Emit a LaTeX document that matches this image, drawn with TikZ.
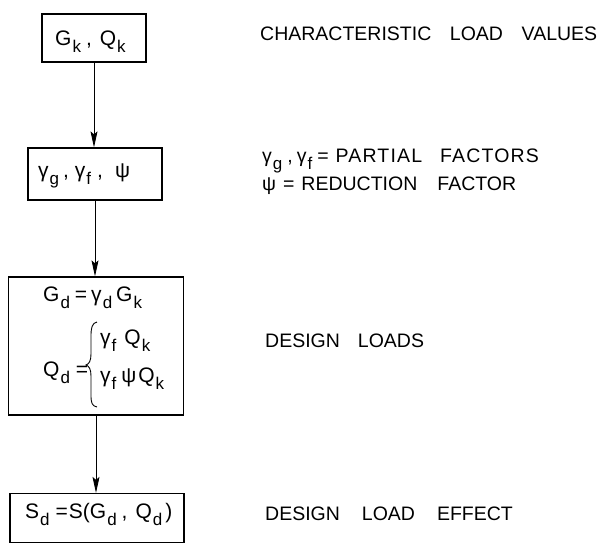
\documentclass[tikz,border=0pt]{standalone}
\usepackage{fontspec}
\setmainfont{Liberation Sans}
\usetikzlibrary{arrows.meta}
\newcommand\sbs[1]{\hspace{1pt}\raisebox{-7pt}{\fontsize{17}{17}\selectfont #1}}
\begin{document}
\begin{tikzpicture}[x=1pt,y=-1pt,
  box/.style={draw, line width=1.3pt, inner sep=0, rectangle},
  txt/.style={inner sep=0, anchor=base west, font=\fontsize{21}{24}\selectfont},
  lbl/.style={inner sep=0, anchor=base west, font=\fontsize{19.5}{23}\selectfont},
  arr/.style={-{Stealth[length=16pt,width=7pt,inset=3pt]}, line width=0.8pt}]
\useasboundingbox (0,0) rectangle (608,544);
% boxes
\node[box, minimum width=104pt, minimum height=48pt] (b1) at (94,38) {};
\node[box, minimum width=134pt, minimum height=52pt] (b2) at (95,174) {};
\node[box, minimum width=175pt, minimum height=138pt] (b3) at (96,346) {};
\node[box, minimum width=174pt, minimum height=49pt] (b4) at (97,518) {};
% box contents
\node[txt] (t1) at (55,45) {G\sbs{k}\hspace{5pt},\hspace{8pt}Q\sbs{k}};
\node[txt] (t2) at (38,177) {γ\sbs{g}\hspace{4pt},\hspace{6pt}γ\sbs{f}\hspace{6pt},\hspace{12pt}ψ};
\node[txt] (t3) at (43,301) {G\sbs{d}\hspace{5pt}=\hspace{4pt}γ\sbs{d}\hspace{4pt}G\sbs{k}};
\node[txt] (t4) at (43,376) {Q\sbs{d}\hspace{6pt}=};
\draw[line width=0.9pt] (97,322) .. controls (92,323) and (91,328) .. (91,336) -- (91,354)
  .. controls (91,361) and (89,364) .. (86,365) .. controls (89,366) and (91,369) .. (91,376)
  -- (91,395) .. controls (91,403) and (92,406) .. (97,407);
\node[txt] (t5) at (100,344) {γ\sbs{f}\hspace{8pt}Q\sbs{k}};
\node[txt] (t6) at (100,382) {γ\sbs{f}\hspace{5pt}ψ\hspace{2pt}Q\sbs{k}};
\node[txt] (t7) at (25,518) {S\sbs{d}\hspace{6pt}=\hspace{1pt}S(G\sbs{d}\hspace{5pt},\hspace{8pt}Q\sbs{d}\hspace{3pt})};
% arrows
\draw[arr] (b1.south) -- (b1.south |- b2.north);
\draw[arr] (b2.south) -- (b2.south |- b3.north);
\draw[arr] (b3.south) -- (b3.south |- b4.north);
% right labels
\node[lbl] (l1) at (260,40) {\makebox[337pt][s]{CHARACTERISTIC LOAD VALUES}};
\node[lbl] (l2) at (262,162) {γ\sbs{g}\hspace{5pt},\hspace{4pt}γ\sbs{f}\hspace{5pt}=\hspace{7pt}{\addfontfeature{LetterSpace=6}PARTIAL\hspace{18pt}FACTORS}};
\node[lbl] (l3) at (262,190) {ψ\hspace{7pt}=\hspace{7pt}REDUCTION\hspace{20pt}FACTOR};
\node[lbl] (l4) at (265,347) {DESIGN\hspace{18pt}LOADS};
\node[lbl] (l5) at (265,520) {DESIGN\hspace{22pt}LOAD\hspace{22pt}EFFECT};
\end{tikzpicture}
\end{document}
